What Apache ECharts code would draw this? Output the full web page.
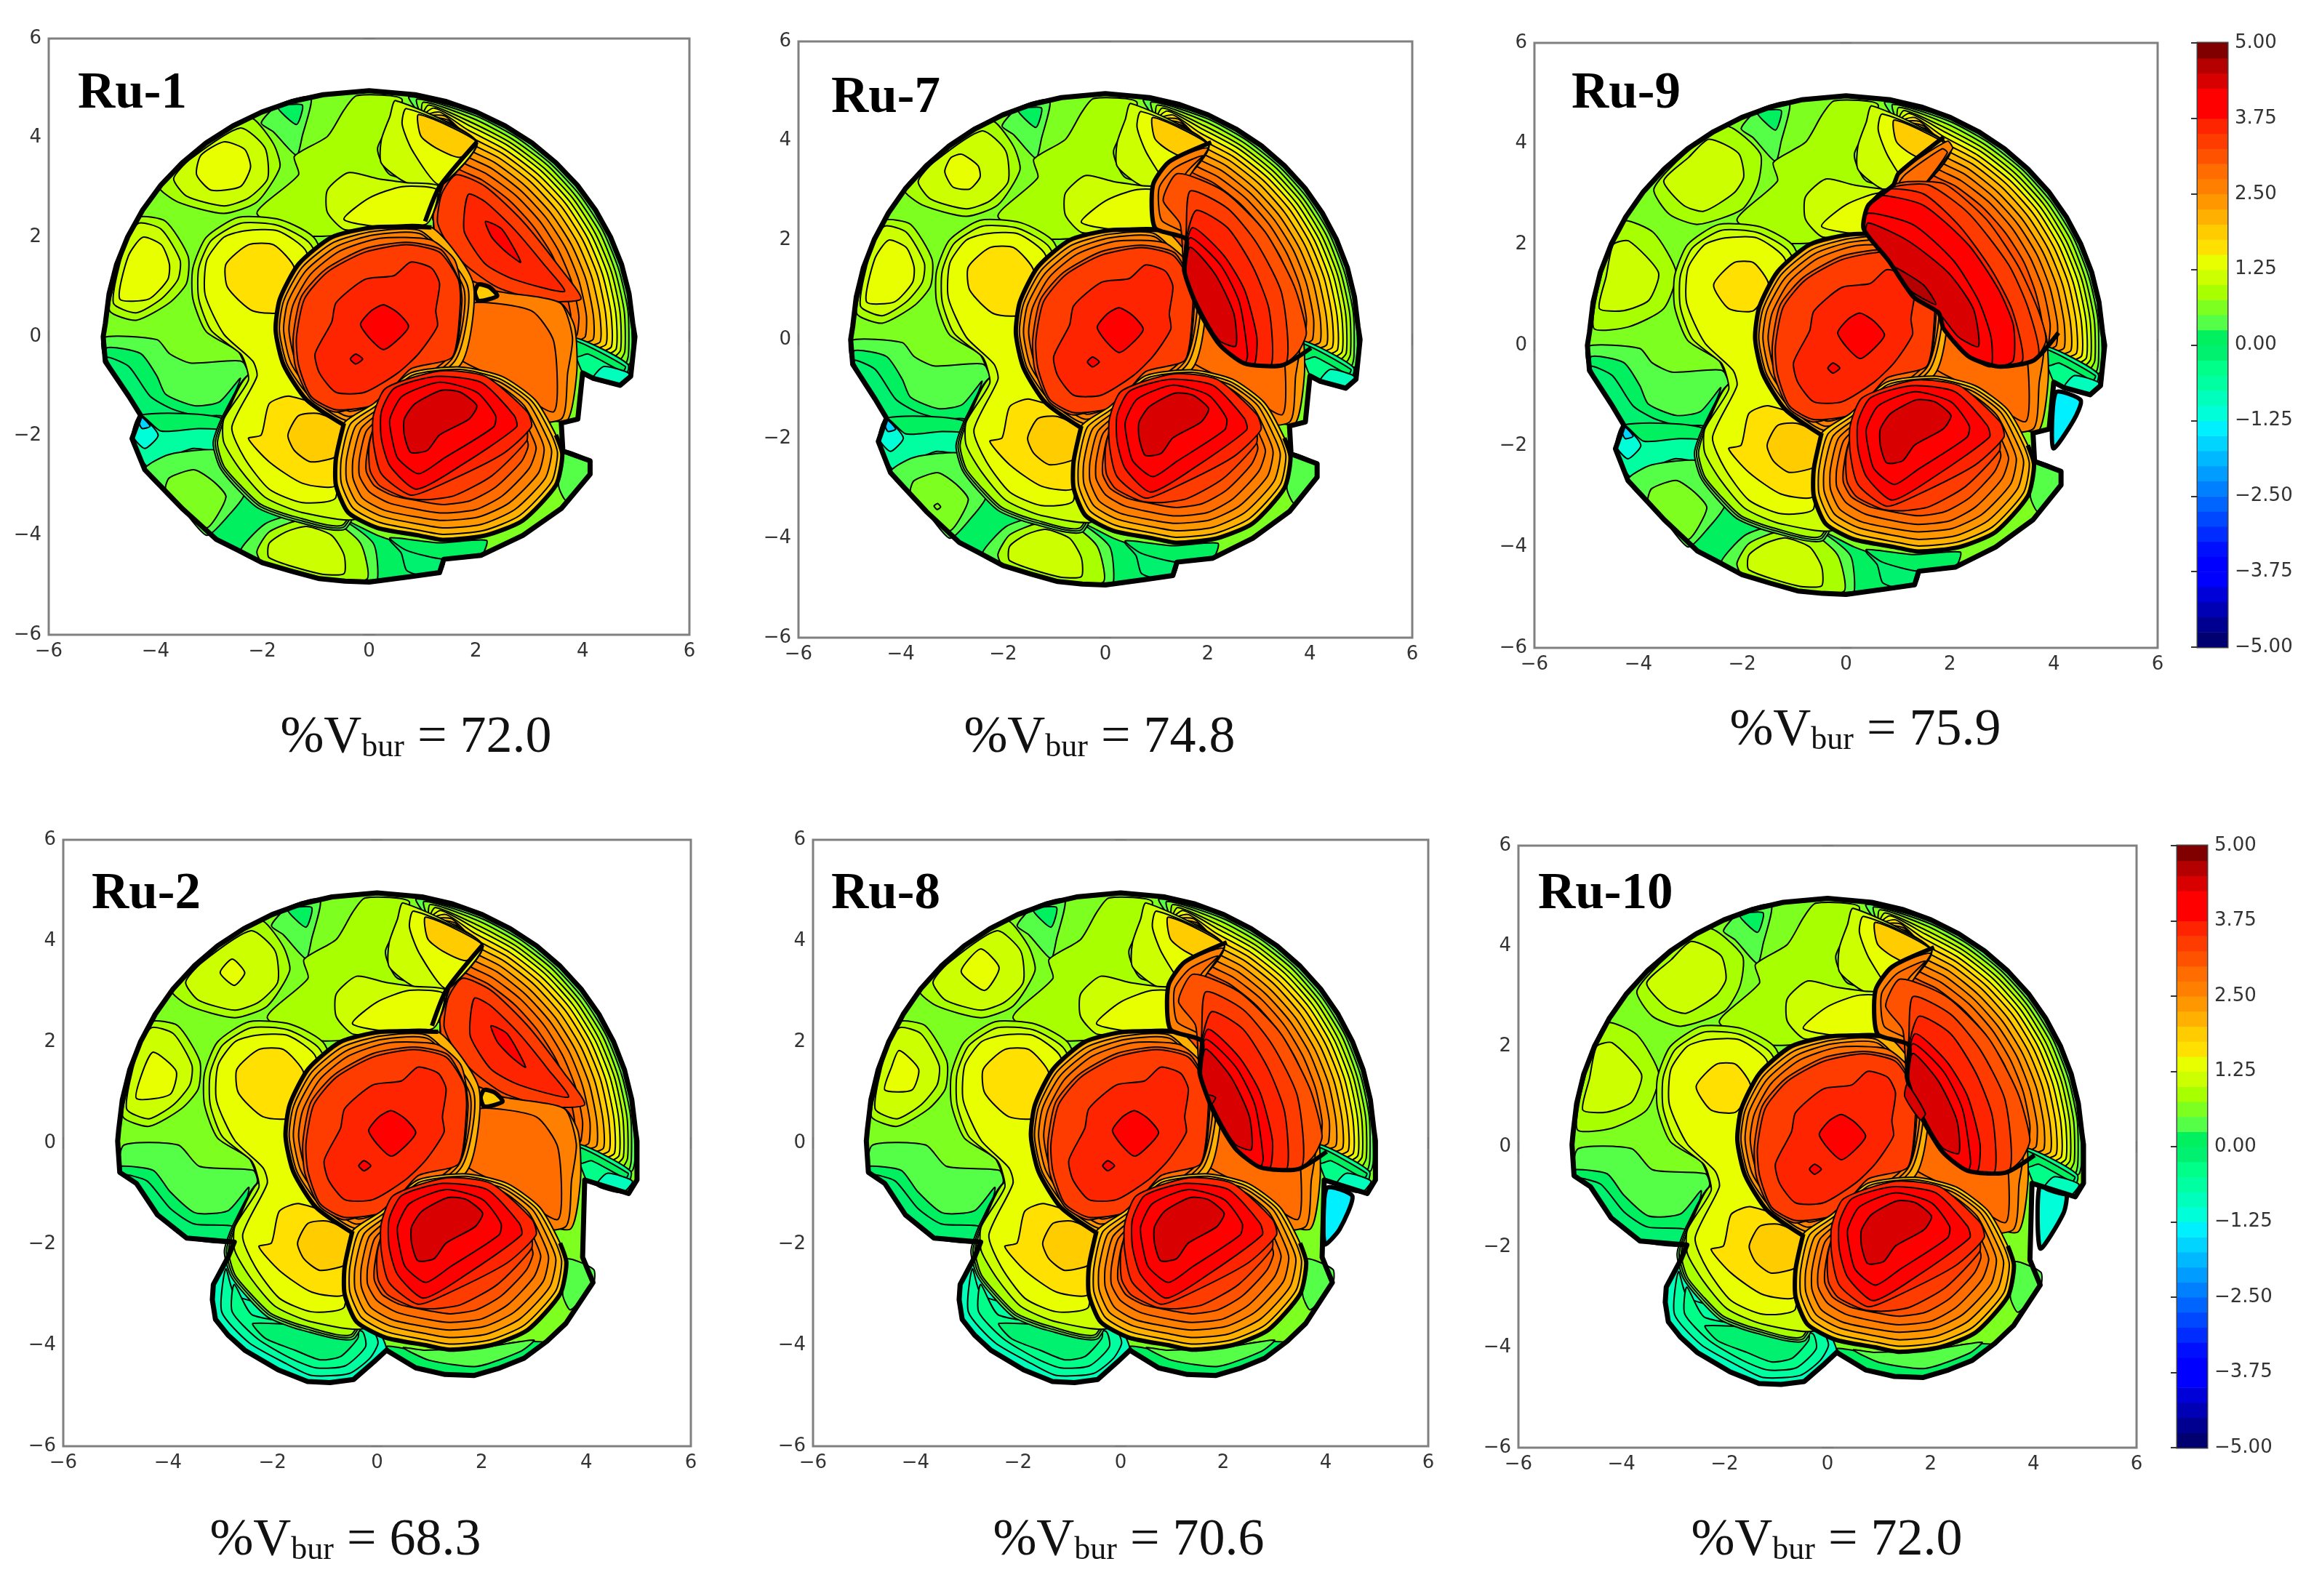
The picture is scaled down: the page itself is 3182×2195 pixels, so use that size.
<!DOCTYPE html>
<html><head><meta charset="utf-8">
<style>html,body{margin:0;padding:0;background:#fff}#c{width:3182px;height:2195px}</style>
<script src="https://cdn.jsdelivr.net/npm/echarts@6/dist/echarts.min.js"></script></head>
<body><div id="c"></div>
<script>
// ---------- tick labels and captions ----------
const panelNames=['Ru-1','Ru-7','Ru-9','Ru-2','Ru-8','Ru-10'];
const vburValues=['72.0','74.8','75.9','68.3','70.6','72.0'];
const colorbarTicks=[-5,-3.75,-2.5,-1.25,0,1.25,2.5,3.75,5];
// colour of each 0.25 wide contour band, from -5 up to 5
const bandColors=['#000070','#000090','#0000b4','#0000d8','#0000ff','#0000ff','#0010ff','#002cff','#0048ff','#0064ff',
'#0080ff','#009cff','#00b8ff','#00d4ff','#00f0ff','#00ffd8','#00ffbc','#00ffa0','#00ff88','#00f070',
'#00f060','#55ff48','#7dff20','#a8ff00','#ccff00','#e8ff00','#ffe000','#ffcc00','#ffb000','#ff9800',
'#ff8000','#ff6c00','#ff5200','#ff3c00','#ff2400','#ff0000','#ff0000','#d80000','#b40000','#800000'];
const bandLevels=bandColors.map((c,i)=>-5+i*0.25);

// ---------- contour rings: [level, [x,y,x,y,...], style] ----------
const outlineTopRow=[0,4.95,.86,4.87,1.45,4.73,2.01,4.52,2.55,4.24,3.05,3.9,3.5,3.5,3.9,3.05,4.24,2.55,4.52,2.01,4.73,1.45,4.87,.86,4.94,.26,4.98,0,4.9,-.8,4.7,-.98,4.2,-.84,4,-.73,3.91,-1.66,3.6,-1.74,3.63,-2.3,4.14,-2.5,4.14,-2.77,3.6,-3.46,2.88,-4,2.1,-4.4,1.4,-4.48,1.32,-4.75,.78,-4.83,0,-4.94,-.45,-4.92,-.93,-4.87,-1.45,-4.72,-2,-4.55,-2.45,-4.3,-2.86,-4.08,-3.2,-3.75,-3.5,-3.46,-3.85,-3.07,-4.2,-2.68,-4.44,-2.05,-4.28,-1.58,-4.5,-1.2,-4.94,-.5,-4.98,0,-4.94,.26,-4.87,.86,-4.73,1.45,-4.52,2.01,-4.24,2.55,-3.9,3.05,-3.5,3.5,-3.05,3.9,-2.55,4.24,-2.01,4.52,-1.45,4.73,-.86,4.87];
const outlineBottomRow=[0,4.95,.86,4.87,1.45,4.73,2.01,4.52,2.55,4.24,3.05,3.9,3.5,3.5,3.9,3.05,4.24,2.55,4.52,2.01,4.73,1.45,4.87,.86,4.94,.26,4.97,.04,4.97,-.73,4.81,-1,3.97,-.73,3.93,-2.26,4.13,-2.76,3.61,-3.57,3.25,-3.92,2.81,-4.26,2.35,-4.45,1.86,-4.6,1.3,-4.58,.74,-4.45,.18,-4.1,-.06,-4.33,-.45,-4.68,-.9,-4.74,-1.33,-4.72,-1.89,-4.49,-2.53,-4.1,-2.85,-3.8,-3.09,-3.49,-3.15,-3.1,-3.13,-2.8,-2.85,-2.26,-2.73,-1.96,-3.64,-1.88,-4.2,-1.42,-4.6,-.8,-4.92,-.58,-4.96,.04,-4.94,.26,-4.87,.86,-4.73,1.45,-4.52,2.01,-4.24,2.55,-3.9,3.05,-3.5,3.5,-3.05,3.9,-2.55,4.24,-2.01,4.52,-1.45,4.73,-.86,4.87];

const rimLevels=[.25,.5,.75,1,1.25,1.5,1.75,2,2.25,2.5,2.75,3];
const rimArcs=[
[.75,4.83,2,4.5,2.76,4.09,3.43,3.54,3.99,2.9,4.43,2.16,4.74,1.36,4.9,.52,4.93,-.34,4.86,-.56],
[.9,4.78,1.98,4.45,2.72,4.04,3.38,3.5,3.94,2.86,4.38,2.13,4.68,1.34,4.85,.51,4.86,-.34,4.8,-.53],
[1.02,4.72,1.95,4.39,2.68,3.98,3.34,3.45,3.88,2.82,4.32,2.1,4.61,1.32,4.78,.5,4.79,-.3,4.68,-.47],
[1.12,4.66,1.92,4.31,2.64,3.91,3.28,3.39,3.82,2.78,4.24,2.07,4.54,1.3,4.7,.5,4.71,-.27,4.55,-.42],
[1.22,4.6,1.89,4.24,2.59,3.85,3.22,3.34,3.75,2.73,4.17,2.03,4.46,1.28,4.62,.49,4.63,-.24,4.42,-.36],
[1.32,4.52,1.85,4.16,2.54,3.77,3.16,3.27,3.68,2.68,4.09,1.99,4.37,1.26,4.53,.48,4.54,-.2,4.3,-.3],
[1.42,4.44,1.81,4.07,2.49,3.69,3.09,3.2,3.6,2.62,4,1.95,4.28,1.23,4.43,.47,4.44,-.15,4.18,-.24],
[1.5,4.35,1.77,3.97,2.43,3.6,3.02,3.12,3.51,2.55,3.9,1.9,4.17,1.2,4.32,.46,4.33,-.1,4.08,-.18],
[1.58,4.27,1.72,3.86,2.36,3.5,2.93,3.03,3.41,2.48,3.79,1.85,4.06,1.16,4.2,.44,4.2,-.05,4,-.12],
[1.62,4.18,1.66,3.74,2.29,3.39,2.84,2.94,3.31,2.4,3.68,1.79,3.93,1.13,4.07,.43,4.05,0,3.92,-.07],
[1.65,4.08,1.61,3.61,2.21,3.27,2.75,2.84,3.2,2.32,3.55,1.73,3.8,1.09,3.93,.42,3.9,.05,3.85,-.02],
[1.68,4,1.55,3.47,2.12,3.15,2.64,2.73,3.07,2.23,3.42,1.66,3.65,1.05,3.78,.4,3.7,.1,3.6,.1]];
const rimClosure=[3.8,0,3.5,.5,1.5,1,1.2,2.4,1.4,3.1,1.5,3.6,1,4.4];

const notchRings=[
[-.5,[3.81,-.02,4.85,-.56,4.7,-.98,4.2,-.84,4,-.73]],
[0,[3.85,-.08,4.8,-.6,4.75,-.7,4.1,-.35,3.9,-.4]],
[-1,[4.2,-.84,4.7,-.98,4.88,-.75,4.4,-.6]],
[.25,[3.62,-2.3,4.14,-2.5,4.14,-2.77,3.7,-3.3,3.55,-3]]];

const upperLeftCommon=[
[.25,[-2.02,4.3,-1.71,4.66,-1.09,4.82,-1.25,4.04,-1.36,3.65,-1.79,4.12]],
[0,[-1.71,4.62,-1.25,4.66,-1.36,4.27]],
[.75,[-.47,4.56,-.23,4.85,.62,4.77,.16,3.8,.39,3.26,1.32,3.02,1.09,2.34,-1.09,2.02,-2.1,2.48,-1.32,3.26,-1.4,3.63,-.78,4.03]]];
const islandsA=[
[.75,[-2.18,4.39,-1.79,3.88,-1.67,3.41,-2.1,2.71,-2.72,2.48,-3.58,2.71,-3.93,3.02,-3.35,3.65,-2.56,4.27]],
[1,[-2.41,4.2,-1.95,3.8,-1.9,3.18,-2.26,2.79,-2.72,2.63,-3.42,2.83,-3.66,3.18,-3.35,3.57]],
[.75,[-4.32,2.4,-3.81,2.32,-3.39,1.62,-3.42,1.07,-3.74,.68,-4.36,.33,-4.86,.52,-4.75,1.15,-4.55,1.93]],
[1,[-4.32,2.28,-3.89,2.16,-3.54,1.54,-3.58,1.15,-3.89,.76,-4.36,.48,-4.79,.68,-4.59,1.77]]];
const islandsB=[
[.75,[-2.3,4.35,-1.65,3.8,-1.7,3.2,-2,2.7,-2.85,2.4,-3.4,2.6,-3.7,3.1,-3.1,3.8]],
[.75,[-4.28,2.47,-3.7,2.23,-3.27,1.44,-3.51,.73,-4.18,.37,-4.85,.33,-4.8,1,-4.55,1.95]]];
const coreTopLeftRu1=[1.25,[-2.72,3.92,-2.33,3.77,-2.22,3.41,-2.41,3.02,-2.96,2.95,-3.23,3.26,-3.15,3.65]];
const coreTopLeftRu7=[1.25,[-2.81,3.73,-2.49,3.5,-2.45,3.27,-2.65,3.03,-2.98,3.07,-3.14,3.38,-3.02,3.66]];
const coreTopLeftRu2=[1.25,[-2.77,3.64,-2.53,3.37,-2.73,3.12,-3,3.37]];
const coreTopLeftRu8=[1.25,[-2.73,3.84,-2.37,3.47,-2.65,3.02,-3.11,3.39]];
const coreLeftTopRow=[1.25,[-4.24,2,-3.89,1.85,-3.74,1.46,-3.77,1.15,-4.12,.76,-4.67,.76,-4.51,1.62]];
const coreLeftRu2=[1.25,[-4.28,1.8,-3.84,1.42,-3.96,.96,-4.6,.88,-4.48,1.42]];
const coreLeftRu8=[1.25,[-4.32,1.83,-3.94,1.46,-4.07,1.05,-4.6,1.05,-4.47,1.5]];
const coreTopIslandB=[1,[-2.64,4.09,-2.07,3.81,-1.97,3.34,-2.16,3.02,-2.74,2.66,-3.13,2.78,-3.51,3.26,-3.03,3.73]];
const coreLeftIslandB=[1,[-4.18,2.07,-3.61,1.44,-3.8,.89,-4.28,.69,-4.75,.73,-4.62,1.36,-4.48,2]];

const lowerLeftTopRow=[
[.25,[-4.98,-.02,-3.97,-.06,-3.74,-.34,-3.35,-.53,-2.41,-.49,-2.22,-.73,-2.72,-1.59,-2.8,-2.13,-4.28,-1.58,-4.5,-1.2,-4.94,-.5]],
[0,[-4.9,-.22,-4.28,-.34,-3.97,-.8,-3.81,-1.16,-3.27,-1.39,-2.8,-1.31,-2.41,-.84,-2.72,-1.66,-2.76,-1.98,-4.28,-1.58,-4.5,-1.2,-4.94,-.5]],
[-.25,[-4.92,-.42,-4.5,-.6,-4.1,-1.2,-3.7,-1.45,-3.2,-1.6,-2.75,-1.6,-2.75,-1.9,-3.5,-1.85,-4.1,-1.75,-4.28,-1.58,-4.5,-1.2]],
[0,[-4.44,-2.05,-4.28,-1.58,-2.72,-1.66,-2.72,-2.45,-2.33,-3.15,-1.87,-3.54,-.62,-3.62,.16,-4,1.4,-4.48,1.32,-4.75,0,-4.9,-.93,-4.87,-2,-4.55,-2.86,-4.08,-3.5,-3.46,-4.2,-2.68]],
[-.75,[-4.44,-2.05,-4.28,-1.58,-3.9,-1.9,-3.2,-1.85,-2.72,-1.9,-2.72,-2.3,-3.3,-2.25,-3.9,-2.5,-4.15,-2.62]],
[-1.25,[-4.42,-2,-4.28,-1.6,-3.95,-1.98,-4.2,-2.25]],
[-1.75,[-4.32,-1.7,-4.28,-1.6,-4.1,-1.8,-4.25,-1.85]],
[.25,[-4.2,-2.68,-3.74,-2.37,-2.8,-2.29,-2.65,-2.68,-2.33,-3.15,-2.65,-3.62,-3.04,-4,-3.5,-3.46]],
[.5,[-3.27,-2.68,-2.92,-2.91,-2.68,-3.23,-3.04,-3.85,-3.5,-3.46,-3.81,-3.07,-3.74,-2.84]],
[.25,[-1.4,-3.58,-.62,-3.62,.08,-4.16,.16,-4.87,0,-4.9,-.93,-4.87,-2,-4.55,-2.41,-4.32,-1.95,-3.77]],
[.75,[-1.32,-3.7,-.7,-3.7,-.16,-4.16,-.04,-4.88,-.93,-4.87,-2,-4.55,-2.1,-4.32,-1.87,-3.93]],
[1,[-1.17,-3.82,-.7,-4,-.47,-4.39,-.47,-4.77,-.93,-4.77,-1.87,-4.45,-1.87,-4.16,-1.56,-3.93]],
[-.25,[.39,-4.09,1.4,-4.48,1.32,-4.75,.95,-4.8,.7,-4.7,.6,-4.35]],
[0,[.39,-4.05,1.3,-4.15,2.2,-4.1,2.1,-4.4,1.4,-4.48,.7,-4.3]]];
const lowerLeftBottomRow=[
[.25,[-4.84,-.04,-3.8,-.04,-3.4,-.46,-2.37,-.54,-2.29,-.77,-2.6,-1.5,-2.73,-1.96,-3.64,-1.88,-4.2,-1.42,-4.6,-.8,-4.92,-.58]],
[0,[-4.92,-.46,-4.28,-.54,-3.96,-.96,-3.48,-1.38,-2.85,-1.34,-2.45,-.88,-2.69,-1.8,-2.77,-1.92,-3.64,-1.88,-4.2,-1.42,-4.6,-.8,-4.92,-.58]],
[-.25,[-4.85,-.62,-4.4,-.75,-3.95,-1.3,-3.5,-1.6,-2.75,-1.65,-2.75,-1.94,-3.64,-1.88,-4.2,-1.42,-4.6,-.8]],
[-1,[-2.85,-2.26,-3.13,-2.8,-3.09,-3.49,-2.53,-4.1,-1.89,-4.49,-1.33,-4.72,-.45,-4.68,-.06,-4.33,.18,-4.1,0,-3.7,-2.6,-2.2]],
[-.75,[-2.89,-2.49,-2.97,-3.34,-2.45,-3.95,-1.73,-4.37,-1.25,-4.6,-.53,-4.56,-.14,-4.26,.02,-3.95,-.14,-3.64,-2.69,-3.03]],
[-.5,[-2.73,-2.8,-2.77,-3.34,-2.29,-3.87,-1.65,-4.26,-1.17,-4.45,-.61,-4.41,-.22,-4.03,-.3,-3.72,-2.37,-3.41]],
[-.25,[-2.37,-3.57,-2.13,-3.87,-1.57,-4.1,-1.09,-4.29,-.69,-4.22,-.37,-3.87,-.37,-3.72]],
[0,[.18,-4.03,.74,-4.45,1.86,-4.6,2.81,-4.26,3.2,-3.95,2.6,-3.95,1.4,-4.25,.7,-4.1]],
[.25,[.5,-4.05,1,-4.3,1.9,-4.42,2.75,-4.12,3,-3.9,2,-4.05,.9,-4.1]]];

const beltRings=[
[.25,[-2.72,-1.55,-2.92,-2.13,-2.8,-2.62,-2.48,-3.05,-2.08,-3.45,-1.45,-3.7,-.42,-3.85,.2,-1.6,-2.2,-.75]],
[.5,[-2.7,-1.57,-2.88,-2.13,-2.76,-2.61,-2.44,-3.02,-2.05,-3.41,-1.42,-3.66,-.45,-3.81,.2,-1.6,-2.2,-.75]],
[.75,[-2.68,-1.59,-2.84,-2.13,-2.72,-2.6,-2.41,-2.99,-2.02,-3.38,-1.4,-3.62,-.47,-3.77,.2,-1.6,-2.2,-.75]],
[.75,[-2.45,2.4,-1.65,2.35,-1,1.95,0,-.8,-2.2,-.75,-2.45,-.3,-3.05,.1,-3.3,.76,-3.3,1.38,-3.05,2]],
[1,[-2.41,2.28,-1.71,2.24,-1.09,1.85,.16,-.88,-.16,-3.62,-1.25,-3.54,-1.95,-3.23,-2.41,-2.68,-2.72,-2.13,-2.72,-1.66,-2.26,-.88,-2.33,-.5,-2.41,-.34,-2.96,.13,-3.19,.76,-3.19,1.38,-2.96,1.93]],
[1.25,[-2.33,2.13,-1.71,2.13,-1.17,1.7,-.62,-.88,-.62,-3.23,-1.25,-3.34,-1.87,-3.07,-2.33,-2.45,-2.57,-1.82,-2.1,-.8,-2.18,-.49,-2.72,.05,-3.07,.84,-3.04,1.54,-2.72,2]],
[1.5,[-2.02,-1.98,-1.87,-1.35,-1.48,-1.2,-.47,-1.66,-.62,-2.99,-1.25,-2.95,-1.87,-2.52,-2.26,-2.05]],
[1.75,[-1.52,-1.98,-1.32,-1.59,-.93,-1.55,-.47,-1.82,-.54,-2.37,-1.09,-2.52,-1.4,-2.29]]];
const midIslandA=[1.5,[-2.68,1.46,-2.26,1.85,-1.79,1.85,-1.4,1.38,-1.56,.52,-2.18,.52,-2.65,.99]];
const midIslandB=[1.5,[-2.55,1.2,-2.16,1.64,-1.78,1.64,-1.49,1.2,-1.78,.69,-2.26,.73]];

const topRings=[
[1,[.5,4.75,2.02,3.92,1.32,3.02,.7,3.1,.23,3.49,.23,3.96,.39,4.43]],
[1,[-.78,2.5,-.78,2.95,-.39,3.3,.16,3.18,.7,3.1,1.32,3.02,1.09,2.32,.31,2.2,-.45,2.15]],
[1.25,[.7,4.59,2.02,3.92,1.32,3.06,.82,3.73,.62,4.27]],
[1.25,[-.47,2.36,0,2.79,.62,3.02,1.28,2.95,1.09,2.28,.31,2.2]],
[1.75,[.93,4.47,2.02,3.92,1.71,3.61,1.25,3.8,.97,4.04]]];

const wedgeSmall=[
[3.25,[1.63,3.26,2.18,3.02,2.88,2.32,3.58,1.38,3.97,.76,3.27,.72,2.41,.99,1.79,1.46,1.4,2,1.28,2.32,1.36,2.87]],
[3.5,[1.87,2.87,2.18,2.71,2.72,2.16,3.27,1.46,3.66,.91,2.72,1.15,2.18,1.46,1.79,2.09,1.79,2.55]],
[3.75,[2.18,2.32,2.49,2.16,2.84,1.5,2.57,1.7,2.3,2]],
[null,[2.02,3.92,1.32,3.02,1.05,2.32],'o']];

const middleOrange=[
[2.25,[3.58,.68,3.85,.2,3.89,-.73,3.7,-1.7,3,-1.5,2,-.5,2.4,.8]],
[2.5,[1.71,1.15,2.41,.91,3.58,.68,3.81,-.02,3.72,-.73,3.6,-1.66,2.49,-1.66,.93,-.57,1.52,-.34]],
[2.75,[1.95,.68,3.04,.52,3.46,-.1,3.46,-1.51,2.49,-.88,1.63,-.38,1.91,.29]]];
const smallHole=[1.75,[2.05,1.05,2.25,1,2.4,.82,2.05,.72,1.98,.9],'b'];

const centralBlob=[
[2,[1.17,2.2,.08,2.2,-.7,2,-1.32,1.46,-1.67,.76,-1.75,.13,-1.6,-.57,-1.17,-1.27,-.47,-1.78,0,-1.66,1.71,-.57,1.95,1.07]],
[2.25,[.98,2.12,.08,2.12,-.66,1.9,-1.25,1.4,-1.6,.72,-1.68,.13,-1.53,-.57,-1.1,-1.22,-.45,-1.68,.05,-1.55,1.6,-.5,1.85,1]],
[2.5,[1,2.05,.1,2.05,-.6,1.82,-1.18,1.33,-1.52,.7,-1.6,.13,-1.46,-.54,-1.05,-1.15,-.42,-1.6,.1,-1.45,1.55,-.45,1.78,.95]],
[2.75,[1.15,1.95,.2,1.98,-.55,1.72,-1.1,1.25,-1.42,.65,-1.5,.13,-1.37,-.5,-.95,-1.08,-.38,-1.5,.15,-1.33,1.5,-.4,1.72,.9,1.6,1.55]],
[3,[.7,1.9,1.35,1.75,1.68,1.15,1.74,.7,1.58,-.38,.8,-.62,.14,-1.25,-.62,-1.52,-1.1,-1.25,-1.38,-.6,-1.42,0,-1.27,.8,-.82,1.35,-.08,1.77]],
[3.25,[.7,1.85,1.32,1.7,1.67,1.15,1.71,.68,1.56,-.41,.78,-.65,.16,-1.35,-.62,-1.47,-1.09,-1.2,-1.32,-.57,-1.36,-.02,-1.21,.76,-.78,1.3,-.08,1.7]],
[3.5,[.78,1.5,1.17,1.38,1.32,1.07,1.25,.52,1.28,.21,.93,-.34,.54,-.73,-.08,-1.12,-.62,-1.12,-.93,-.73,-1.01,-.34,-.7,.29,-.62,.68,-.08,1.15,.47,1.23]],
[3.75,[.27,.64,.54,.48,.74,.21,.54,-.06,.27,-.26,0,-.02,-.16,.25,.04,.52]],
[3.75,[-.35,-.45,-.25,-.35,-.12,-.45,-.25,-.55]],
[null,[1.17,2.2,.08,2.2,-.7,2,-1.32,1.46,-1.67,.76,-1.75,.13,-1.6,-.57,-1.17,-1.27,-.47,-1.78],'o']];

const lowerBlob=[
[1.75,[-.47,-1.74,-.62,-2.45,-.62,-2.99,-.39,-3.54,.16,-3.85,.93,-4,1.4,-4.09,2.18,-4,2.88,-3.7,3.5,-2.99,3.62,-2.37,3.5,-1.98,3.11,-1.27,2.49,-.8,1.71,-.61,.78,-.73,.08,-1.35]],
[2,[-.35,-1.76,-.52,-2.45,-.52,-2.95,-.3,-3.45,.2,-3.74,.95,-3.9,1.4,-3.98,2.15,-3.9,2.82,-3.6,3.42,-2.92,3.53,-2.35,3.42,-1.98,3.05,-1.3,2.45,-.85,1.7,-.66,.8,-.78,.12,-1.4]],
[2.25,[-.25,-1.8,-.42,-2.45,-.42,-2.9,-.22,-3.35,.25,-3.62,.97,-3.78,1.4,-3.85,2.1,-3.78,2.73,-3.48,3.3,-2.85,3.42,-2.32,3.32,-2,2.98,-1.33,2.42,-.9,1.68,-.72,.83,-.84,.18,-1.45]],
[2.5,[-.15,-1.85,-.3,-2.45,-.3,-2.85,-.12,-3.25,.3,-3.5,1,-3.65,1.4,-3.7,2.05,-3.63,2.62,-3.35,3.17,-2.75,3.28,-2.28,3.2,-2,2.9,-1.38,2.38,-.95,1.65,-.78,.87,-.9,.23,-1.5]],
[2.75,[-.05,-1.9,-.18,-2.45,-.18,-2.8,0,-3.12,.38,-3.35,1.02,-3.5,1.4,-3.55,2,-3.48,2.5,-3.2,3,-2.65,3.13,-2.25,3.05,-2,2.78,-1.43,2.3,-1,1.62,-.83,.92,-.95,.28,-1.55]],
[3,[.05,-1.95,-.05,-2.45,-.05,-2.72,.1,-3,.45,-3.2,1.05,-3.33,1.4,-3.38,1.9,-3.3,2.37,-3.03,2.85,-2.52,2.98,-2.2,2.92,-1.98,2.66,-1.48,2.22,-1.07,1.6,-.9,.95,-1,.35,-1.6]],
[3.25,[.12,-1.7,0,-2.2,.02,-2.7,.2,-3,.7,-3.25,1.1,-3.28,1.6,-3.2,2.3,-2.8,2.95,-2.1,2.95,-1.85,2.6,-1.4,2.2,-.95,1.55,-.75,1,-.8,.4,-1.2]],
[3.5,[1.32,-.69,2.18,-.8,2.96,-1.51,3.04,-1.82,2.49,-2.37,1.32,-2.99,.78,-3.19,.23,-2.76,.08,-2.13,.08,-1.59,.31,-1.04]],
[3.75,[1.25,-.8,2.1,-.92,2.72,-1.59,2.76,-1.82,1.71,-2.6,.89,-3.07,.39,-2.6,.23,-2.05,.23,-1.51,.47,-1.04]],
[4,[1.32,-.92,2.02,-1.12,2.37,-1.59,2.33,-1.82,1.4,-2.45,.93,-2.76,.54,-2.45,.43,-2.05,.39,-1.66,.62,-1.2]],
[4.25,[1.36,-1.08,1.71,-1.12,2.02,-1.39,1.87,-1.66,1.32,-1.98,1.09,-2.29,.78,-2.33,.66,-1.98,.66,-1.66,.86,-1.35]],
[null,[-.47,-1.74,-.62,-2.45,-.62,-2.99,-.39,-3.54,.16,-3.85,.93,-4,1.4,-4.09,2.18,-4,2.88,-3.7,3.5,-2.99,3.62,-2.37,3.5,-1.98],'o']];

const wedgeLarge=[
[2.5,[1.25,3.58,.93,3.11,.97,2.25,1.58,2.02,1.54,1.39,1.55,2.5,1.6,3.2,2,3.85]],
[2.75,[1.35,3.45,1.05,3.05,1.1,2.4,1.6,2.1,1.6,1.4,1.6,2.5,1.55,3.3,1.9,3.7]],
[3,[1.41,3.34,2.31,2.99,3.12,2.17,3.69,1.08,3.93,.14,3.77,-.25,3.45,-.52,2.72,-.48,2.23,-.1,1.82,.6,1.54,1.39,1.46,2.33,1.13,2.8]],
[3.25,[1.66,2.99,2.39,2.64,2.96,1.94,3.45,.92,3.53,-.48,2.72,-.48,2.23,-.1,1.82,.6,1.54,1.39,1.58,2.17]],
[3.5,[1.78,2.6,2.39,2.25,2.88,1.47,3.2,.61,3.24,-.52,2.72,-.48,2.23,-.1,1.82,.6,1.54,1.39,1.58,2.02]],
[3.75,[1.7,2.25,2.31,1.7,2.72,1,2.96,.06,2.92,-.48,2.72,-.48,2.23,-.1,1.82,.6,1.54,1.39]],
[4,[1.66,2.05,2.25,1.5,2.62,.75,2.78,-.3,2.72,-.48,2.23,-.1,1.82,.6,1.54,1.39]],
[4.25,[1.66,1.86,2.15,1.31,2.51,.53,2.55,-.13,2.23,-.02,1.82,.69,1.58,1.31]],
[null,[2.07,3.97,1.25,3.58,.93,3.11,.97,2.25,1.58,2.02,1.54,1.39,1.82,.6,2.23,-.1,2.72,-.48,3.45,-.52,4.02,-.17],'o']];
const wedgeRu9=[
[2.5,[1.95,4.05,1.05,3.45,.91,3.18,1.25,2.9,1.4,3.05,2.05,3.9]],
[2.75,[1.85,3.9,1.15,3.4,1.02,3.2,1.3,3,1.45,3.12,1.95,3.82]],
[3,[1.2,3.25,1.9,3.2,2.7,2.5,3.3,1.6,3.7,.7,3.85,.1,3.61,-.3,2.93,-.42,2.36,-.22,1.88,.33,1.78,.65,1.3,.96,.82,1.68,.34,2.31,.43,2.78,.91,3.18]],
[3.25,[.91,3.14,1.59,3.18,2.36,2.62,3.13,1.6,3.51,.73,3.7,-.22,2.93,-.42,2.36,-.22,1.88,.33,1.78,.65,1.3,.96,.82,1.68,.34,2.31,.43,2.78]],
[3.5,[.75,3.1,1.5,3,2.2,2.35,2.8,1.5,3.2,.7,3.4,-.3,2.93,-.42,2.36,-.22,1.88,.33,1.78,.65,1.3,.96,.82,1.68,.34,2.31,.43,2.78]],
[3.75,[.62,2.98,1.49,2.78,2.36,1.99,2.93,1.12,3.22,.41,3.22,-.3,2.93,-.42,2.36,-.22,1.88,.33,1.78,.65,1.3,.96,.82,1.68,.34,2.31,.43,2.78]],
[4,[.43,2.62,1.3,2.39,2.07,1.68,2.55,.89,2.79,.17,2.79,-.42,2.36,-.22,1.88,.33,1.78,.65,1.3,.96,.82,1.68,.34,2.31]],
[4.25,[.43,2.43,1.2,2.07,1.97,1.44,2.45,.73,2.55,-.02,2.16,.17,1.78,.65,1.3,.96,.82,1.68,.38,2.2]],
[4.5,[.91,1.56,1.49,1.2,1.73,.81,1.3,1.04,1.02,1.32]],
[null,[1.88,4.13,1.01,3.41,.91,3.18,.43,2.78,.34,2.31,.82,1.68,1.3,.96,1.78,.65,1.88,.33,2.36,-.22,2.93,-.42,3.61,-.3,4.09,.25],'o']];

const cyanPatchRu8=[-1.5,[4.02,-.89,4.52,-1.05,4.27,-1.71,3.98,-2],'b'];
const cyanPatchRu9=[-1.5,[4.04,-.93,4.52,-1.09,4.38,-1.49,3.99,-2.04],'b'];
const cyanPatchRu10=[-1.25,[4.13,-.75,4.63,-.91,4.58,-1.33,4.13,-2.03],'b'];
const dotRu7=[.5,[-3.35,-3.35,-3.28,-3.3,-3.22,-3.37,-3.29,-3.42]];
const inkRu10=[4.25,[1.55,1.24,1.9,.66,1.8,.54,1.5,1]];
const inkRu8=[4.25,[1.72,.95,1.85,.9,1.78,.78]];

// ---------- stacking of the rings for each map ----------
const rimRings=rimLevels.map((lvl,i)=>[lvl,rimArcs[i].concat(rimClosure)]);
function stack(o){
  const L=[];
  if(o.patch)L.push(o.patch);
  L.push([.5,o.outline,'n'],...rimRings,...notchRings,...upperLeftCommon,...o.islands,o.coreTop,o.coreLeft,...o.lower,...beltRings,o.mid,...topRings);
  if(o.wedge===wedgeSmall)L.push(...wedgeSmall);
  L.push(...middleOrange);
  if(o.wedge===wedgeSmall)L.push(smallHole);
  L.push(...centralBlob);
  if(o.wedge!==wedgeSmall)L.push(...o.wedge);
  L.push(...lowerBlob);
  if(o.extra)L.push(o.extra);
  L.push([null,o.outline,'e']);
  return L;
}
const panelLayers=[
 stack({outline:outlineTopRow,islands:islandsA,coreTop:coreTopLeftRu1,coreLeft:coreLeftTopRow,lower:lowerLeftTopRow,mid:midIslandA,wedge:wedgeSmall}),
 stack({outline:outlineTopRow,islands:islandsA,coreTop:coreTopLeftRu7,coreLeft:coreLeftTopRow,lower:lowerLeftTopRow,mid:midIslandA,wedge:wedgeLarge,extra:dotRu7}),
 stack({patch:cyanPatchRu9,outline:outlineTopRow,islands:islandsB,coreTop:coreTopIslandB,coreLeft:coreLeftIslandB,lower:lowerLeftTopRow,mid:midIslandB,wedge:wedgeRu9}),
 stack({outline:outlineBottomRow,islands:islandsA,coreTop:coreTopLeftRu2,coreLeft:coreLeftRu2,lower:lowerLeftBottomRow,mid:midIslandA,wedge:wedgeSmall}),
 stack({patch:cyanPatchRu8,outline:outlineBottomRow,islands:islandsA,coreTop:coreTopLeftRu8,coreLeft:coreLeftRu8,lower:lowerLeftBottomRow,mid:midIslandA,wedge:wedgeLarge,extra:inkRu8}),
 stack({patch:cyanPatchRu10,outline:outlineBottomRow,islands:islandsB,coreTop:coreTopIslandB,coreLeft:coreLeftIslandB,lower:lowerLeftBottomRow,mid:midIslandB,wedge:wedgeLarge,extra:inkRu10})
];

// ---------- page layout ----------
const frames=[[67,53,881,820],[1098,57,844,820],[2110,59,857,832],[87,1155,863,834],[1118,1155,846,834],[2088,1163,850,828]];
const nameSpots=[[107,94],[1143,100],[2161,94],[126,1195],[1143,1195],[2115,1195]];
const captionSpots=[[572,1015],[1512,1015],[2565,1005],[475,2119],[1552,2119],[2512,2119]];
const colorbarFrames=[[3022,59,41,831],[2994,1163,41,828]];

function bandColor(l){return bandColors[Math.max(0,Math.min(39,Math.round((l+5)/0.25)))];}
function renderer(layers){
  return function(params,api){
    const L=layers[params.dataIndex],pts=[];
    for(let i=0;i<L[1].length;i+=2)pts.push(api.coord([L[1][i],L[1][i+1]]));
    if(L[2]==='o')return{type:'polyline',silent:true,shape:{points:pts,smooth:0.22},style:{fill:null,stroke:'#000',lineWidth:6,lineJoin:'round'}};
    if(L[2]==='e')return{type:'polygon',silent:true,shape:{points:pts},style:{fill:null,stroke:'#000',lineWidth:7,lineJoin:'round'}};
    if(L[2]==='n')return{type:'polygon',silent:true,shape:{points:pts},style:{fill:bandColor(L[0]),stroke:null}};
    return{type:'polygon',silent:true,shape:{points:pts,smooth:0.22},style:{fill:bandColor(L[0]),stroke:'#000',lineWidth:L[2]?6:2,lineJoin:'round'}};
  };
}
const labelStyle={fontFamily:'DejaVu Sans',fontSize:26,color:'#333',margin:10,formatter:v=>String(v).replace('-','\u2212')};
const tick={show:true,inside:true,length:8,lineStyle:{color:'#777',width:2}};
const grids=[],xAxes=[],yAxes=[],series=[],titles=[];
frames.forEach((f,i)=>{
  grids.push({left:f[0],top:f[1],width:f[2],height:f[3],show:true,borderColor:'#808080',borderWidth:3,backgroundColor:'#fff'});
  ['bottom','top'].forEach((pos,k)=>xAxes.push({type:'value',gridIndex:i,min:-6,max:6,interval:2,position:pos,axisLine:{show:false},axisTick:tick,splitLine:{show:false},axisLabel:k?{show:false}:{...labelStyle}}));
  ['left','right'].forEach((pos,k)=>yAxes.push({type:'value',gridIndex:i,min:-6,max:6,interval:2,position:pos,axisLine:{show:false},axisTick:tick,splitLine:{show:false},axisLabel:k?{show:false}:{...labelStyle}}));
  const layers=panelLayers[i];
  series.push({type:'custom',xAxisIndex:i*2,yAxisIndex:i*2,clip:false,animation:false,silent:true,progressive:0,
    renderItem:renderer(layers),data:layers.map(L=>[L[1][0],L[1][1]]),encode:{x:0,y:1}});
  titles.push({text:panelNames[i],left:nameSpots[i][0],top:nameSpots[i][1],padding:0,
    textStyle:{fontFamily:'Liberation Serif',fontWeight:'bold',fontSize:71,color:'#000'}});
  titles.push({text:'{a|%V}{b|bur}{a| = '+vburValues[i]+'}',left:captionSpots[i][0],top:captionSpots[i][1]-42,textAlign:'center',padding:0,
    textStyle:{fontWeight:'normal',rich:{a:{fontFamily:'Liberation Serif',fontWeight:'normal',fontSize:72,color:'#111',lineHeight:84},
      b:{fontFamily:'Liberation Serif',fontWeight:'normal',fontSize:44,color:'#111',lineHeight:84,padding:[26,0,0,0]}}}});
});
colorbarFrames.forEach((f,j)=>{
  const g=grids.length,xi=xAxes.length,yi=yAxes.length;
  grids.push({left:f[0],top:f[1],width:f[2],height:f[3],show:true,borderColor:'#444',borderWidth:3,backgroundColor:'#fff'});
  xAxes.push({type:'value',gridIndex:g,min:0,max:1,show:false});
  yAxes.push({type:'value',gridIndex:g,min:-5,max:5,interval:1.25,position:'right',axisLine:{show:false},
    axisTick:{show:true,inside:true,length:9,lineStyle:{color:'#333',width:2}},splitLine:{show:false},
    axisLabel:{fontFamily:'DejaVu Sans',fontSize:26,color:'#333',margin:10,formatter:v=>v.toFixed(2).replace('-','\u2212')}});
  series.push({type:'custom',xAxisIndex:xi,yAxisIndex:yi,clip:true,animation:false,silent:true,progressive:0,
    data:bandLevels.map(l=>[l]),encode:{y:0},
    renderItem:function(params,api){
      const l=bandLevels[params.dataIndex],a=api.coord([0,l+0.25]),b=api.coord([1,l]);
      return{type:'rect',silent:true,shape:{x:a[0],y:a[1],width:b[0]-a[0],height:b[1]-a[1]+0.6},style:{fill:bandColors[params.dataIndex]}};
    }});
});
const chart=echarts.init(document.getElementById('c'),null,{renderer:'canvas'});
chart.setOption({animation:false,backgroundColor:'#fff',title:titles,grid:grids,xAxis:xAxes,yAxis:yAxes,series:series});
</script></body></html>
